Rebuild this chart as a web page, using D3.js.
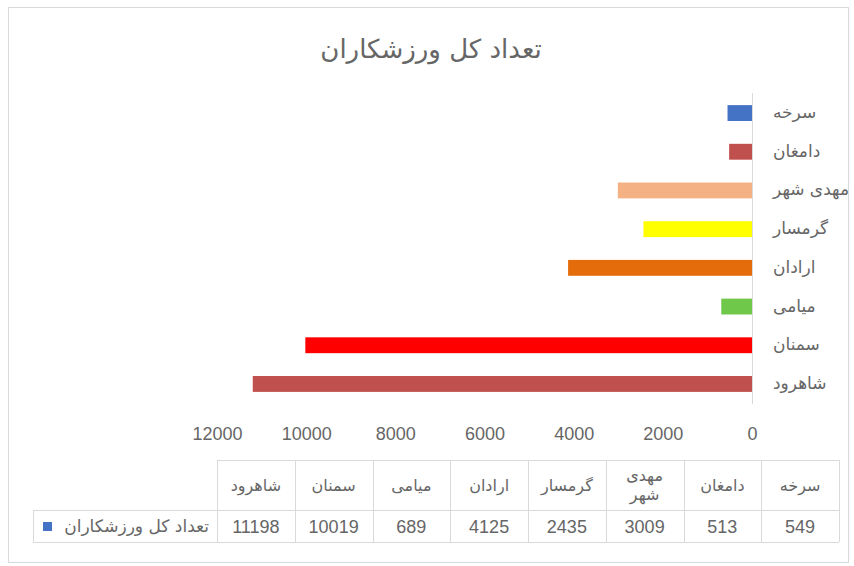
<!DOCTYPE html>
<html>
<head>
<meta charset="utf-8">
<script src="https://cdn.jsdelivr.net/npm/d3@7"></script>
<style>
body { margin: 0; background: #fff; }
</style>
</head>
<body>
<svg id="mainSVG" width="854" height="566"></svg>
<script>

// data (top bar first)
var cities = ["سرخه", "دامغان", "مهدی شهر", "گرمسار", "ارادان", "میامی", "سمنان", "شاهرود"];
var athletes = [549, 513, 3009, 2435, 4125, 689, 10019, 11198];
var barColors = ["#4472C4", "#C0504D", "#F4B183", "#FFFF00", "#E46C0A", "#70C84A", "#FF0000", "#C0504D"];
var xTicks = [0, 2000, 4000, 6000, 8000, 10000, 12000];
var seriesName = "تعداد کل ورزشکاران";

var arabicFont = "DejaVu Sans, sans-serif";
var numFont = "Liberation Sans, Arial, sans-serif";
var grey = "#666666";
var lineGrey = "#d9d9d9";

var svg = d3.select("#mainSVG");

// chart frame
svg.append("rect")
    .attr("x", 8.5)
    .attr("y", 7.5)
    .attr("width", 840)
    .attr("height", 555)
    .attr("fill", "#fff")
    .attr("stroke", lineGrey);

// title
svg.append("text")
    .attr("x", 431)
    .attr("y", 58)
    .attr("font-family", arabicFont)
    .attr("font-size", "26")
    .attr("fill", grey)
    .attr("text-anchor", "middle")
    .text(seriesName);

//scales
var x = d3.scaleLinear()
    .domain([0, 12000])
    .range([752, 217]);

var y = d3.scaleBand()
    .domain(cities)
    .range([93.7, 403.3])
    .paddingInner(0.59)
    .paddingOuter(0.295);

// bars
svg.selectAll(".bar")
    .data(cities)
    .enter()
    .append("rect")
    .attr("class", "bar")
    .attr("x", function(d, i) { return x(athletes[i]); })
    .attr("y", function(d) { return y(d); })
    .attr("width", function(d, i) { return x(0) - x(athletes[i]); })
    .attr("height", y.bandwidth())
    .attr("fill", function(d, i) { return barColors[i]; });

// vertical axis line
svg.append("line")
    .attr("x1", x(0) + 0.5)
    .attr("x2", x(0) + 0.5)
    .attr("y1", 93)
    .attr("y2", 404)
    .attr("stroke", lineGrey);

// category labels
svg.selectAll(".cat")
    .data(cities)
    .enter()
    .append("text")
    .attr("class", "cat")
    .attr("x", 773)
    .attr("y", function(d) { return y(d) + y.bandwidth() / 2 + 5; })
    .attr("font-family", arabicFont)
    .attr("font-size", "17")
    .attr("fill", grey)
    .attr("text-anchor", "start")
    .text(function(d) { return d; });

// x axis
var xAxis = d3.axisBottom(x)
    .tickValues(xTicks)
    .tickSize(0)
    .tickPadding(3)
    .tickFormat(d3.format("d"));

var axisG = svg.append("g")
    .attr("transform", "translate(0,424)")
    .call(xAxis);
axisG.select(".domain").remove();
axisG.selectAll("text")
    .attr("font-family", numFont)
    .attr("font-size", "18")
    .attr("fill", grey);

// data table
var tableTop = 460, rowMid = 510, tableBottom = 542;
var col = d3.scaleBand()
    .domain(cities)
    .range([839, 217]);

var tbl = svg.append("g");

// horizontal lines
tbl.append("line")
    .attr("x1", 217).attr("x2", 839)
    .attr("y1", tableTop + 0.5).attr("y2", tableTop + 0.5)
    .attr("stroke", lineGrey);
tbl.append("line")
    .attr("x1", 33).attr("x2", 839)
    .attr("y1", rowMid + 0.5).attr("y2", rowMid + 0.5)
    .attr("stroke", lineGrey);
tbl.append("line")
    .attr("x1", 33).attr("x2", 839)
    .attr("y1", tableBottom + 0.5).attr("y2", tableBottom + 0.5)
    .attr("stroke", lineGrey);

// vertical lines
var colEdges = cities.map(function(d) { return col(d); }).concat([839]);
tbl.selectAll(".vline")
    .data(colEdges)
    .enter()
    .append("line")
    .attr("class", "vline")
    .attr("x1", function(d) { return Math.round(d) + 0.5; })
    .attr("x2", function(d) { return Math.round(d) + 0.5; })
    .attr("y1", tableTop)
    .attr("y2", tableBottom)
    .attr("stroke", lineGrey);
tbl.append("line")
    .attr("x1", 33.5).attr("x2", 33.5)
    .attr("y1", rowMid).attr("y2", tableBottom)
    .attr("stroke", lineGrey);

// header texts
var headers = tbl.selectAll(".head")
    .data(cities)
    .enter()
    .append("text")
    .attr("class", "head")
    .attr("x", function(d) { return col(d) + col.bandwidth() / 2; })
    .attr("font-family", arabicFont)
    .attr("font-size", "16")
    .attr("fill", grey)
    .attr("text-anchor", "middle");

headers.each(function(d) {
    var words = d.split(" ");
    var t = d3.select(this);
    var firstY = 491 - (words.length - 1) * 10;
    words.forEach(function(w, k) {
        t.append("tspan")
            .attr("x", col(d) + col.bandwidth() / 2)
            .attr("y", firstY + k * 19)
            .text(w);
    });
});

// values
tbl.selectAll(".val")
    .data(cities)
    .enter()
    .append("text")
    .attr("class", "val")
    .attr("x", function(d) { return col(d) + col.bandwidth() / 2; })
    .attr("y", 533)
    .attr("font-family", numFont)
    .attr("font-size", "18")
    .attr("fill", grey)
    .attr("text-anchor", "middle")
    .text(function(d, i) { return athletes[i]; });

// legend key in table
tbl.append("rect")
    .attr("x", 43)
    .attr("y", 522)
    .attr("width", 9)
    .attr("height", 9)
    .attr("fill", "#4472C4");

tbl.append("text")
    .attr("x", 209)
    .attr("y", 532)
    .attr("font-family", arabicFont)
    .attr("font-size", "17")
    .attr("fill", grey)
    .attr("text-anchor", "end")
    .text(seriesName);

</script>
</body>
</html>
